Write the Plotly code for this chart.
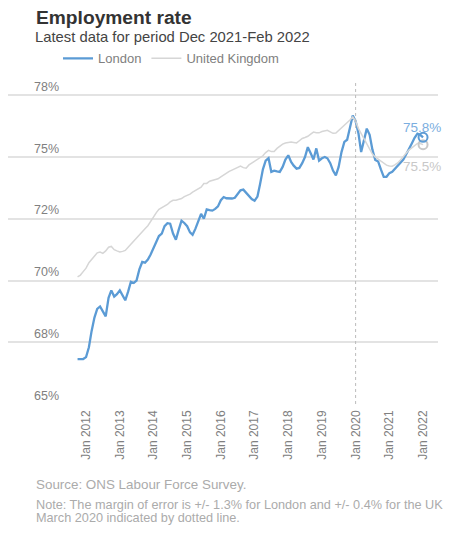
import plotly.graph_objects as go
import pandas as pd

# ---- data (monthly, Oct 2011 - Jan 2022) ----
dates = pd.date_range("2011-10-01", "2022-01-01", freq="MS").strftime("%Y-%m-%d").tolist()

london = [
    66.82, 66.82, 66.82,
    66.9, 67.3, 67.95, 68.5, 68.85, 68.95, 68.75, 68.55, 69.3, 69.6, 69.35, 69.45,
    69.6, 69.4, 69.2, 69.55, 69.95, 69.9, 70.0, 70.45, 70.75, 70.72, 70.85, 71.05,
    71.3, 71.6, 71.8, 71.9, 72.2, 72.32, 72.3, 71.9, 71.65, 72.05, 72.42, 72.33,
    72.2, 71.95, 71.85, 72.1, 72.4, 72.7, 72.5, 72.88, 72.85, 72.83, 72.9, 73.0,
    73.25, 73.38, 73.33, 73.32, 73.32, 73.35, 73.5, 73.65, 73.68, 73.55, 73.4, 73.3,
    73.23, 73.4, 73.9, 74.5, 74.85, 74.95, 74.4, 74.45, 74.42, 74.4, 74.6, 74.9,
    75.07, 74.8, 74.65, 74.53, 74.56, 74.75, 75.0, 75.4, 75.15, 74.9, 75.35, 74.85,
    74.95, 75.0, 74.95, 74.75, 74.45, 74.26, 74.6, 75.2, 75.61, 75.7, 76.2, 76.68,
    76.45, 75.95, 75.2, 75.74, 76.15, 75.9, 75.3, 74.88, 74.82, 74.5, 74.2, 74.2,
    74.35, 74.4, 74.52, 74.63, 74.75, 74.9, 75.1, 75.3, 75.55, 75.78, 75.95, 75.9, 75.8,
]

uk = [
    70.15, 70.22, 70.36,
    70.5, 70.72, 70.85, 71.0, 71.12, 71.15, 71.1, 71.2, 71.35, 71.38, 71.25, 71.2,
    71.16, 71.18, 71.22, 71.35, 71.48, 71.58, 71.7, 71.85, 71.98, 72.1, 72.22, 72.4,
    72.58, 72.75, 72.88, 72.95, 73.0, 73.08, 73.18, 73.25, 73.25, 73.28, 73.32, 73.4,
    73.45, 73.5, 73.58, 73.65, 73.7, 73.78, 73.93, 73.93, 74.02, 74.05, 74.08, 74.12,
    74.2, 74.28, 74.35, 74.42, 74.47, 74.53, 74.58, 74.63, 74.57, 74.55, 74.68, 74.75,
    74.82, 74.88, 74.95, 75.05, 75.18, 75.27, 75.22, 75.22, 75.35, 75.45, 75.52, 75.57,
    75.6, 75.61, 75.59, 75.57, 75.66, 75.75, 75.79, 75.84, 75.93, 76.01, 75.98, 75.98,
    76.03, 76.06, 76.08, 76.02, 75.96, 75.97, 76.07, 76.16, 76.26, 76.38, 76.5, 76.62,
    76.45, 76.15, 75.95, 75.72, 75.54, 75.35, 75.12, 75.0, 74.92, 74.85, 74.75, 74.67,
    74.64, 74.63, 74.68, 74.76, 74.88, 75.0, 75.15, 75.28, 75.38, 75.48, 75.55, 75.55, 75.5,
]

y_tickvals = [65, 67.5, 70, 72.5, 75, 77.5]
y_ticktext = ["65%", "68%", "70%", "72%", "75%", "78%"]
marker_date = "2020-01-01"

FONT = "Liberation Sans, Arial, sans-serif"
BLUE = "#5b9bd5"
GREY = "#d6d6d6"

W, H = 445, 527          # page body has an 8px margin
L, R, T, B = 0, 15, 69.7, 130.7
PW, PH = W - L - R, H - T - B

def px_x(p):  # paper x from figure pixel
    return (p - L) / PW

def px_y(p):  # paper y from figure pixel (from top)
    return (H - B - p) / PH

fig = go.Figure()
fig.add_trace(go.Scatter(x=dates, y=london, name="London", mode="lines",
                         line=dict(color=BLUE, width=2.3)))
fig.add_trace(go.Scatter(x=dates, y=uk, name="United Kingdom", mode="lines",
                         line=dict(color=GREY, width=1.5)))
# end markers
fig.add_trace(go.Scatter(x=[dates[-1]], y=[uk[-1]], mode="markers", showlegend=False,
                         marker=dict(symbol="circle", size=9, color="rgba(255,255,255,0)",
                                     line=dict(color="#c8c8c8", width=2))))
fig.add_trace(go.Scatter(x=[dates[-1]], y=[london[-1]], mode="markers", showlegend=False,
                         marker=dict(symbol="circle", size=9, color="rgba(255,255,255,0)",
                                     line=dict(color=BLUE, width=2))))

fig.add_annotation(x=dates[-1], y=london[-1], text=f"{london[-1]:.1f}%", showarrow=False,
                   yshift=10, xshift=-1, font=dict(family=FONT, size=13.5, color="#7aaee0"))
fig.add_annotation(x=dates[-1], y=uk[-1], text=f"{uk[-1]:.1f}%", showarrow=False,
                   yshift=-22, xshift=-1, font=dict(family=FONT, size=13.5, color="#c8c8c8"))

fig.add_shape(type="line", xref="x", yref="paper", x0=marker_date, x1=marker_date,
              y0=0, y1=px_y(73), line=dict(color="#bbbbbb", width=1, dash="dot"))

fig.update_layout(
    width=W, height=H,
    margin=dict(l=L, r=R, t=T, b=B, pad=0),
    paper_bgcolor="white", plot_bgcolor="white",
    font=dict(family=FONT, color="#808080"),
    title=dict(text="<b>Employment rate</b>", x=28/W, xanchor="left", xref="container",
               y=1-9/H, yanchor="middle", yref="container",
               font=dict(family=FONT, size=19.2, color="#333333")),
    showlegend=True,
    legend=dict(orientation="h", x=px_x(50), xanchor="left", y=px_y(50), yanchor="middle",
                font=dict(family=FONT, size=13, color="#808080"), bgcolor="rgba(0,0,0,0)"),
)
fig.add_annotation(text="Latest data for period Dec 2021-Feb 2022", xref="paper", yref="paper",
                   x=px_x(25), y=px_y(28.5), xanchor="left", yanchor="middle",
                   showarrow=False, font=dict(family=FONT, size=14.8, color="#444444"))
fig.add_annotation(text="Source: ONS Labour Force Survey.", xref="paper", yref="paper",
                   x=px_x(26), y=px_y(477), xanchor="left", yanchor="middle",
                   showarrow=False, font=dict(family=FONT, size=13.4, color="#ababab"))
fig.add_annotation(text="Note: The margin of error is +/- 1.3% for London and +/- 0.4% for the UK",
                   xref="paper", yref="paper",
                   x=px_x(26), y=px_y(497), xanchor="left", yanchor="middle",
                   showarrow=False, font=dict(family=FONT, size=12.7, color="#ababab"))
fig.add_annotation(text="March 2020 indicated by dotted line.", xref="paper", yref="paper",
                   x=px_x(26), y=px_y(511), xanchor="left", yanchor="middle",
                   showarrow=False, font=dict(family=FONT, size=12.7, color="#ababab"))

fig.update_xaxes(range=["2009-09-07", "2022-06-12"], showgrid=False, zeroline=False,
                 showline=False, ticks="", tick0="2012-01-01", dtick="M12",
                 tickformat="%b %Y", tickangle=-90, ticklabelstandoff=3,
                 tickfont=dict(family=FONT, size=12, color="#808080"))
fig.update_yaxes(range=[65, 78.2], tickvals=y_tickvals, ticktext=y_ticktext,
                 showgrid=True, gridcolor="#e3e3e3", gridwidth=1.5, zeroline=False,
                 showline=False, ticks="", ticklabelposition="inside top",
                 ticklabelstandoff=23,
                 tickfont=dict(family=FONT, size=12.5, color="#808080"))

fig.write_html("out.html")
